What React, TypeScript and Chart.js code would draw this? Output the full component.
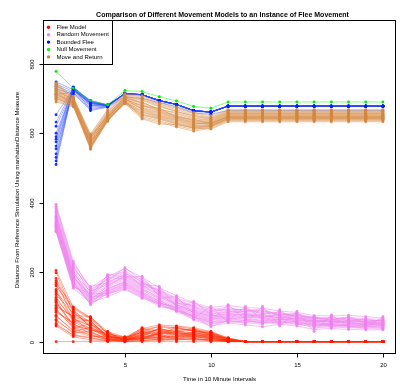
import { useEffect, useRef } from "react";
import { Chart, registerables } from "chart.js";

Chart.register(...registerables);

const times = [1, 2, 3, 4, 5, 6, 7, 8, 9, 10, 11, 12, 13, 14, 15, 16, 17, 18, 19, 20];
const xTicks = [5, 10, 15, 20];
const yTicks = [0, 200, 400, 600, 800];
const seriesNames = ["Flee Model", "Random Movement", "Bounded Flee", "Null Movement", "Move and Return"];
const titleText = "Comparison of Different Movement Models to an Instance of Flee Movement";
const xTitle = "Time in 10 Minute Intervals";
const yTitle = "Distance From Reference Simulation Using manhattanDistance Measure";

const fleeRuns = [
  [0, 0, 0, 0, 0, 0, 0, 0, 0, 0, 0, 0, 0, 0, 0, 0, 0, 0, 0, 0],
  [205, 98, 68, 25, 10, 35, 42, 38, 33, 26, 8, 0, 0, 0, 0, 0, 0, 0, 0, 0],
  [182, 88, 55, 18, 6, 28, 45, 40, 30, 22, 5, 0, 0, 0, 0, 0, 0, 0, 0, 0],
  [165, 76, 72, 22, 12, 18, 30, 44, 36, 28, 10, 0, 0, 0, 0, 0, 0, 0, 0, 0],
  [150, 64, 48, 28, 4, 12, 25, 30, 38, 18, 6, 0, 0, 0, 0, 0, 0, 0, 0, 0],
  [140, 92, 40, 15, 8, 40, 20, 26, 22, 14, 3, 0, 0, 0, 0, 0, 0, 0, 0, 0],
  [128, 58, 62, 10, 3, 22, 36, 18, 28, 24, 7, 0, 0, 0, 0, 0, 0, 0, 0, 0],
  [118, 45, 35, 20, 14, 8, 28, 34, 16, 10, 4, 0, 0, 0, 0, 0, 0, 0, 0, 0],
  [105, 70, 28, 8, 2, 15, 12, 22, 26, 20, 9, 0, 0, 0, 0, 0, 0, 0, 0, 0],
  [96, 38, 52, 12, 5, 30, 18, 12, 20, 12, 2, 0, 0, 0, 0, 0, 0, 0, 0, 0],
  [88, 52, 22, 5, 9, 5, 24, 28, 10, 16, 5, 0, 0, 0, 0, 0, 0, 0, 0, 0],
  [76, 30, 15, 14, 3, 10, 8, 16, 14, 8, 1, 0, 0, 0, 0, 0, 0, 0, 0, 0],
  [64, 24, 30, 6, 1, 20, 15, 8, 18, 6, 3, 0, 0, 0, 0, 0, 0, 0, 0, 0],
  [52, 18, 10, 3, 6, 4, 6, 10, 6, 4, 2, 0, 0, 0, 0, 0, 0, 0, 0, 0],
  [45, 14, 5, 2, 0, 2, 3, 5, 8, 2, 0, 0, 0, 0, 0, 0, 0, 0, 0, 0],
  [198, 85, 45, 20, 7, 25, 35, 30, 25, 18, 6, 0, 0, 0, 0, 0, 0, 0, 0, 0],
  [175, 70, 58, 16, 10, 32, 26, 36, 32, 24, 9, 0, 0, 0, 0, 0, 0, 0, 0, 0],
  [160, 95, 65, 24, 5, 14, 40, 20, 18, 12, 4, 0, 0, 0, 0, 0, 0, 0, 0, 0],
  [145, 60, 38, 12, 11, 26, 18, 42, 30, 26, 7, 0, 0, 0, 0, 0, 0, 0, 0, 0],
  [135, 82, 50, 18, 4, 36, 32, 14, 24, 16, 5, 0, 0, 0, 0, 0, 0, 0, 0, 0],
  [122, 66, 44, 9, 8, 10, 22, 26, 34, 20, 8, 0, 0, 0, 0, 0, 0, 0, 0, 0],
  [112, 50, 32, 26, 2, 24, 10, 32, 12, 9, 3, 0, 0, 0, 0, 0, 0, 0, 0, 0],
  [100, 74, 60, 14, 6, 18, 38, 24, 20, 18, 6, 0, 0, 0, 0, 0, 0, 0, 0, 0],
  [92, 42, 26, 7, 3, 8, 14, 16, 28, 14, 2, 0, 0, 0, 0, 0, 0, 0, 0, 0],
  [84, 56, 36, 11, 12, 28, 20, 10, 14, 22, 4, 0, 0, 0, 0, 0, 0, 0, 0, 0],
  [72, 34, 20, 4, 1, 6, 26, 20, 8, 5, 1, 0, 0, 0, 0, 0, 0, 0, 0, 0],
  [60, 28, 42, 16, 7, 16, 10, 14, 22, 10, 3, 0, 0, 0, 0, 0, 0, 0, 0, 0],
  [48, 20, 12, 2, 4, 12, 5, 8, 4, 6, 1, 0, 0, 0, 0, 0, 0, 0, 0, 0],
  [170, 100, 70, 29, 13, 38, 48, 45, 40, 29, 11, 0, 0, 0, 0, 0, 0, 0, 0, 0],
  [115, 40, 18, 6, 0, 3, 8, 6, 10, 3, 0, 0, 0, 0, 0, 0, 0, 0, 0, 0],
];

const randomRuns = [
  [395, 231, 150, 180, 205, 170, 145, 120, 100, 85, 95, 90, 85, 80, 75, 70, 65, 68, 62, 60],
  [385, 220, 140, 190, 200, 160, 150, 125, 110, 90, 100, 85, 90, 75, 80, 65, 70, 60, 65, 58],
  [375, 210, 159, 170, 195, 180, 140, 115, 95, 80, 85, 95, 80, 85, 70, 72, 60, 65, 58, 62],
  [365, 200, 130, 175, 213, 175, 135, 110, 105, 95, 90, 80, 75, 70, 78, 60, 62, 70, 55, 50],
  [358, 195, 145, 165, 185, 188, 130, 105, 90, 75, 80, 88, 95, 72, 65, 68, 58, 55, 60, 55],
  [350, 190, 120, 160, 190, 165, 159, 100, 85, 70, 75, 78, 70, 80, 72, 55, 66, 52, 50, 65],
  [345, 185, 135, 185, 180, 155, 125, 130, 80, 65, 70, 72, 78, 68, 60, 62, 55, 58, 48, 52],
  [340, 178, 125, 150, 175, 150, 120, 95, 116, 78, 65, 70, 68, 62, 68, 50, 52, 62, 56, 48],
  [335, 170, 110, 155, 170, 145, 115, 90, 75, 60, 106, 65, 60, 65, 55, 58, 48, 50, 52, 45],
  [330, 165, 118, 145, 165, 140, 110, 100, 70, 55, 60, 101, 65, 58, 50, 52, 45, 48, 46, 40],
  [325, 175, 106, 140, 160, 135, 105, 88, 68, 101, 55, 60, 55, 55, 58, 45, 50, 44, 42, 38],
  [320, 160, 128, 135, 155, 130, 101, 92, 65, 50, 58, 55, 50, 92, 52, 40, 42, 40, 38, 36],
  [316, 154, 112, 130, 150, 125, 108, 87, 63, 45, 54, 48, 43, 50, 45, 35, 38, 35, 34, 34],
  [318, 158, 138, 138, 152, 128, 112, 96, 72, 43, 62, 52, 101, 45, 87, 29, 77, 42, 40, 72],
  [390, 225, 155, 188, 210, 185, 155, 132, 112, 98, 104, 98, 96, 88, 84, 75, 74, 76, 72, 68],
  [380, 215, 148, 178, 198, 172, 148, 122, 102, 88, 92, 92, 88, 82, 80, 68, 68, 70, 66, 64],
  [370, 205, 142, 172, 192, 168, 142, 118, 98, 82, 88, 86, 82, 78, 74, 66, 64, 66, 62, 60],
  [362, 198, 136, 168, 188, 162, 138, 112, 92, 78, 84, 82, 78, 74, 70, 62, 60, 62, 58, 57],
  [355, 192, 132, 162, 182, 158, 132, 108, 88, 72, 78, 78, 74, 70, 68, 58, 58, 58, 56, 54],
  [348, 186, 128, 158, 178, 152, 128, 104, 84, 68, 74, 74, 70, 66, 64, 56, 55, 55, 52, 52],
  [342, 182, 124, 152, 172, 148, 124, 100, 80, 64, 72, 70, 66, 64, 62, 54, 52, 52, 50, 50],
  [338, 176, 120, 148, 168, 142, 118, 98, 78, 62, 68, 66, 62, 60, 60, 50, 50, 50, 48, 48],
  [332, 172, 115, 146, 166, 138, 116, 94, 74, 58, 66, 62, 58, 58, 56, 48, 48, 46, 46, 46],
  [328, 168, 114, 142, 162, 136, 112, 92, 72, 56, 64, 60, 56, 56, 54, 46, 46, 45, 44, 44],
  [322, 162, 110, 138, 158, 132, 108, 90, 70, 52, 60, 58, 54, 52, 50, 44, 44, 43, 42, 42],
  [360, 188, 130, 193, 186, 160, 136, 106, 86, 74, 80, 76, 72, 69, 66, 60, 57, 60, 54, 56],
];

const boundedRuns = [
  [748, 725, 694, 680, 714, 711, 694, 683, 665, 661, 678, 678, 678, 678, 678, 678, 678, 678, 678, 678],
  [742, 720, 688, 679, 714, 711, 694, 683, 665, 661, 678, 678, 678, 678, 678, 678, 678, 678, 678, 678],
  [735, 716, 680, 678, 712, 709, 692, 681, 663, 659, 678, 678, 678, 678, 678, 678, 678, 678, 678, 678],
  [728, 712, 672, 676, 714, 711, 694, 683, 665, 661, 678, 678, 678, 678, 678, 678, 678, 678, 678, 678],
  [712, 718, 665, 675, 705, 700, 688, 676, 658, 655, 665, 665, 665, 665, 665, 665, 665, 665, 665, 665],
  [653, 728, 685, 680, 714, 711, 694, 683, 665, 661, 678, 678, 678, 678, 678, 678, 678, 678, 678, 678],
  [632, 730, 690, 681, 714, 711, 694, 683, 665, 661, 678, 678, 678, 678, 678, 678, 678, 678, 678, 678],
  [583, 732, 694, 682, 714, 711, 694, 683, 665, 661, 678, 678, 678, 678, 678, 678, 678, 678, 678, 678],
  [575, 726, 686, 680, 714, 711, 694, 683, 665, 661, 678, 678, 678, 678, 678, 678, 678, 678, 678, 678],
  [563, 724, 676, 678, 714, 711, 694, 683, 665, 661, 678, 678, 678, 678, 678, 678, 678, 678, 678, 678],
  [540, 730, 668, 677, 714, 711, 694, 683, 665, 661, 678, 678, 678, 678, 678, 678, 678, 678, 678, 678],
  [510, 733, 692, 681, 714, 711, 694, 683, 665, 661, 678, 678, 678, 678, 678, 678, 678, 678, 678, 678],
  [600, 729, 688, 680, 714, 711, 694, 683, 665, 661, 678, 678, 678, 678, 678, 678, 678, 678, 678, 678],
  [590, 731, 692, 681, 714, 711, 694, 683, 665, 661, 678, 678, 678, 678, 678, 678, 678, 678, 678, 678],
  [555, 727, 684, 679, 714, 711, 694, 683, 665, 661, 678, 678, 678, 678, 678, 678, 678, 678, 678, 678],
  [530, 731, 690, 680, 714, 711, 694, 683, 665, 661, 678, 678, 678, 678, 678, 678, 678, 678, 678, 678],
  [620, 726, 686, 680, 714, 711, 694, 683, 665, 661, 678, 678, 678, 678, 678, 678, 678, 678, 678, 678],
  [520, 729, 680, 679, 714, 711, 694, 683, 665, 661, 678, 678, 678, 678, 678, 678, 678, 678, 678, 678],
];

const nullRuns = [
  [778, 730, 694, 682, 723, 720, 705, 693, 677, 672, 690, 690, 690, 690, 690, 690, 690, 690, 690, 690],
];

const moveReturnRuns = [
  [745, 705, 598, 668, 714, 708, 688, 676, 660, 650, 668, 668, 668, 668, 668, 668, 668, 668, 668, 668],
  [740, 700, 590, 660, 710, 700, 682, 668, 652, 644, 662, 662, 662, 662, 662, 662, 662, 662, 662, 662],
  [736, 702, 585, 652, 705, 694, 676, 664, 648, 640, 659, 659, 659, 659, 659, 659, 659, 659, 659, 659],
  [730, 696, 582, 656, 700, 688, 670, 656, 642, 636, 656, 656, 656, 656, 656, 656, 656, 656, 656, 656],
  [726, 690, 592, 648, 703, 682, 664, 650, 636, 632, 653, 653, 653, 653, 653, 653, 653, 653, 653, 653],
  [722, 698, 578, 644, 698, 678, 672, 646, 640, 628, 650, 650, 650, 650, 650, 650, 650, 650, 650, 650],
  [718, 688, 575, 650, 695, 672, 658, 644, 630, 626, 648, 648, 648, 648, 648, 648, 648, 648, 648, 648],
  [714, 685, 570, 640, 700, 668, 652, 640, 626, 630, 646, 646, 646, 646, 646, 646, 646, 646, 646, 646],
  [710, 692, 566, 646, 692, 662, 648, 636, 622, 624, 644, 644, 644, 644, 644, 644, 644, 644, 644, 644],
  [706, 684, 562, 638, 690, 656, 644, 630, 618, 622, 642, 642, 642, 642, 642, 642, 642, 642, 642, 642],
  [702, 680, 560, 636, 688, 652, 640, 626, 614, 620, 640, 640, 640, 640, 640, 640, 640, 640, 640, 640],
  [698, 682, 556, 642, 686, 648, 636, 622, 610, 618, 638, 638, 638, 638, 638, 638, 638, 638, 638, 638],
  [694, 678, 554, 634, 694, 644, 632, 618, 606, 615, 636, 636, 636, 636, 636, 636, 636, 636, 636, 636],
  [690, 676, 572, 636, 685, 641, 627, 625, 615, 612, 633, 633, 633, 633, 633, 633, 633, 633, 633, 633],
  [742, 703, 594, 664, 712, 704, 684, 672, 656, 646, 665, 665, 665, 665, 665, 665, 665, 665, 665, 665],
  [733, 699, 588, 658, 707, 697, 679, 662, 650, 642, 661, 661, 661, 661, 661, 661, 661, 661, 661, 661],
  [728, 694, 580, 654, 702, 690, 668, 660, 644, 638, 657, 657, 657, 657, 657, 657, 657, 657, 657, 657],
  [724, 695, 586, 650, 706, 686, 666, 652, 638, 634, 655, 655, 655, 655, 655, 655, 655, 655, 655, 655],
  [720, 691, 576, 647, 697, 680, 662, 648, 634, 630, 652, 652, 652, 652, 652, 652, 652, 652, 652, 652],
  [716, 689, 574, 645, 699, 675, 660, 645, 632, 628, 649, 649, 649, 649, 649, 649, 649, 649, 649, 649],
  [712, 687, 568, 643, 694, 670, 655, 642, 628, 627, 647, 647, 647, 647, 647, 647, 647, 647, 647, 647],
  [708, 686, 564, 641, 691, 665, 650, 638, 624, 623, 645, 645, 645, 645, 645, 645, 645, 645, 645, 645],
  [704, 683, 560, 639, 689, 660, 646, 633, 620, 621, 643, 643, 643, 643, 643, 643, 643, 643, 643, 643],
  [700, 681, 558, 637, 687, 654, 642, 628, 616, 619, 641, 641, 641, 641, 641, 641, 641, 641, 641, 641],
];

const FONT = '"Liberation Sans", Arial, Helvetica, sans-serif';

const groupStyles = [
  { line: "rgba(255,45,0,0.4)", point: "rgba(255,20,0,0.9)", legend: "#ff0000" },
  { line: "rgba(238,130,238,0.5)", point: "rgba(238,130,238,0.9)", legend: "#ee82ee" },
  { line: "rgba(40,70,255,0.4)", point: "rgba(0,30,255,0.9)", legend: "#0000ff" },
  { line: "rgba(0,255,0,0.5)", point: "rgba(0,235,0,1)", legend: "#00ff00" },
  { line: "rgba(215,140,70,0.5)", point: "rgba(210,135,65,0.9)", legend: "#cd853f" },
];

const rPlotPlugin = {
  id: "rPlot",
  afterDraw(chart: any) {
    const { ctx, chartArea: a, scales } = chart;
    const x = scales.x;
    const y = scales.y;
    ctx.save();
    ctx.strokeStyle = "#000";
    ctx.fillStyle = "#000";
    ctx.lineWidth = 1;
    ctx.strokeRect(a.left + 0.5, a.top + 0.5, a.right - a.left - 1, a.bottom - a.top - 1);

    ctx.font = `6px ${FONT}`;
    ctx.textAlign = "center";
    ctx.textBaseline = "middle";
    xTicks.forEach((t) => {
      const px = Math.round(x.getPixelForValue(t)) + 0.5;
      ctx.beginPath();
      ctx.moveTo(px, a.bottom);
      ctx.lineTo(px, a.bottom + 3.5);
      ctx.stroke();
      ctx.fillText(String(t), px, a.bottom + 11);
    });
    yTicks.forEach((t) => {
      const py = Math.round(y.getPixelForValue(t)) + 0.5;
      ctx.beginPath();
      ctx.moveTo(a.left, py);
      ctx.lineTo(a.left - 3.5, py);
      ctx.stroke();
      ctx.save();
      ctx.translate(a.left - 11, py);
      ctx.rotate(-Math.PI / 2);
      ctx.fillText(String(t), 0, 0);
      ctx.restore();
    });

    ctx.font = `6.1px ${FONT}`;
    ctx.fillText(xTitle, (a.left + a.right) / 2, a.bottom + 25);
    ctx.save();
    ctx.translate(a.left - 25.5, (a.top + a.bottom) / 2 + 3);
    ctx.rotate(-Math.PI / 2);
    ctx.fillText(yTitle, 0, 0);
    ctx.restore();

    ctx.font = `bold 7px ${FONT}`;
    ctx.fillText(titleText, (a.left + a.right) / 2 + 3, 15);

    // legend
    const lw = 69;
    const lh = 44;
    ctx.fillStyle = "#fff";
    ctx.fillRect(a.left, a.top, lw, lh);
    ctx.strokeStyle = "#000";
    ctx.lineWidth = 1;
    ctx.strokeRect(a.left + 0.5, a.top + 0.5, lw, lh);
    ctx.font = `6px ${FONT}`;
    ctx.textAlign = "left";
    seriesNames.forEach((name, i) => {
      const ly = a.top + 7.3 + i * 7.4;
      ctx.fillStyle = groupStyles[i].legend;
      ctx.beginPath();
      ctx.arc(a.left + 5.5, ly, 1.7, 0, Math.PI * 2);
      ctx.fill();
      ctx.fillStyle = "#000";
      ctx.fillText(name, a.left + 13.5, ly);
    });
    ctx.restore();
  },
};

export default function App() {
  const ref = useRef<HTMLCanvasElement>(null);
  useEffect(() => {
    document.body.style.margin = "0";
    const groups = [fleeRuns, randomRuns, boundedRuns, nullRuns, moveReturnRuns];
    const datasets: any[] = [];
    groups.forEach((runs, gi) => {
      runs.forEach((run) => {
        const idx = datasets.length;
        datasets.push({
          label: seriesNames[gi],
          data: run.map((v, i) => ({ x: times[i], y: v })),
          borderColor: groupStyles[gi].line,
          backgroundColor: groupStyles[gi].point,
          pointBackgroundColor: groupStyles[gi].point,
          pointBorderWidth: 0,
          pointRadius: 1.45,
          borderWidth: 1,
          tension: 0,
          order: -idx,
        });
      });
    });
    const chart = new Chart(ref.current as HTMLCanvasElement, {
      type: "line",
      data: { datasets },
      options: {
        animation: false,
        responsive: false,
        layout: { padding: { left: 43, right: 3, top: 20, bottom: 34 } },
        scales: {
          x: { type: "linear", min: 0.24, max: 20.76, display: false },
          y: { type: "linear", min: -35.6, max: 926, display: false },
        },
        plugins: { legend: { display: false }, tooltip: { enabled: false }, title: { display: false } },
      },
      plugins: [rPlotPlugin],
    });
    return () => chart.destroy();
  }, []);
  return <canvas ref={ref} width={400} height={388} style={{ display: "block", width: 400, height: 388 }} />;
}
